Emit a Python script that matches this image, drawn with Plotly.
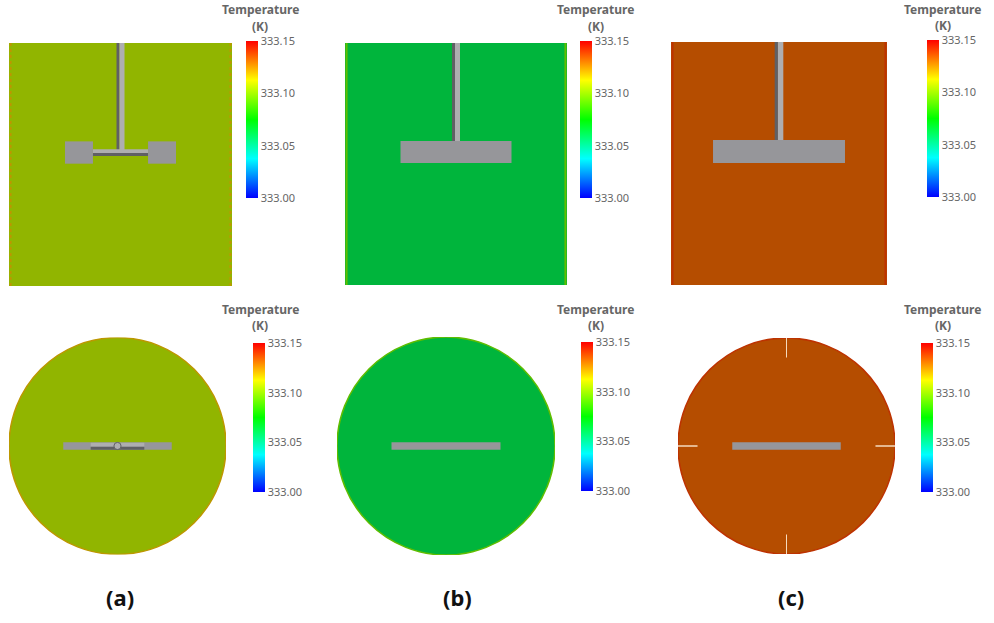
import plotly.graph_objects as go

W, H = 994, 623

panel_labels = ["(a)", "(b)", "(c)"]
temperatures_K = [333.105, 333.0625, 333.134]
wall_temperatures_K = [333.12, 333.094, 333.14]
cbar_ticks = [333.00, 333.05, 333.10, 333.15]
cbar_ticktext = ["333.00", "333.05", "333.10", "333.15"]

# Impeller geometry, in tank radii
side_blade_half = [0.498, 0.5, 0.611]
side_blade_inner = [0.247, 0.0, 0.0]
side_blade_height = [0.2, 0.2, 0.213]
side_blade_z = [1.197, 1.198, 1.236]
side_shaft_half = [0.036, 0.036, 0.04]
plan_blade_half = [0.5, 0.5, 0.5]
plan_blade_height = [0.07, 0.07, 0.07]

# Layout boxes (pixels)
side_boxes = [(9, 232, 43, 286), (345, 567, 43, 285), (671, 887, 42, 285)]
plan_boxes = [(9, 226, 337.5, 554.5), (337, 555, 337, 555), (678, 895, 338, 554)]
side_bars = [(246, 41), (580, 41), (927, 40)]
plan_bars = [(253, 343), (581, 342), (921, 343)]
side_title_x = [260, 595.5, 942.5]
side_title_y = [10, 10, 9]
plan_title_x = [260, 595.5, 942.5]
bar_len = [157, 149]
bar_thick = 12
label_x = [120, 457, 791]

JET = [(0, "#0000ff"), (0.25, "#00ffff"), (0.5, "#00ff00"), (0.75, "#ffff00"), (1, "#ff0000")]
JET_RGB = [(0, 0, 255), (0, 255, 255), (0, 255, 0), (255, 255, 0), (255, 0, 0)]


def jet(t, k=1.0):
    t = max(0, min(1, t)) * 4
    i = min(3, int(t))
    f = t - i
    c = [JET_RGB[i][n] * (1 - f) + JET_RGB[i + 1][n] * f for n in range(3)]
    return "rgb(%d,%d,%d)" % tuple(round(v * k) for v in c)


def frac(T):
    return (T - 333.0) / 0.15


fig = go.Figure()
shapes = []
annotations = []
SHADE = 0.71
GREY, LIGHT, DARK = "#96969a", "#aeaeb0", "#606064"


def rect(ax, x0, x1, y0, y1, color):
    shapes.append(dict(type="rect", xref=f"x{ax}", yref=f"y{ax}", x0=x0, x1=x1, y0=y0, y1=y1,
                       fillcolor=color, line=dict(width=0), layer="above"))


def axis(ax, box, xr, yr):
    l, r, t, b = box
    common = dict(visible=False, showgrid=False, zeroline=False, fixedrange=True)
    fig.layout[f"xaxis{ax}"] = dict(domain=[l / W, r / W], range=xr, anchor=f"y{ax}", **common)
    fig.layout[f"yaxis{ax}"] = dict(domain=[1 - b / H, 1 - t / H], range=yr, anchor=f"x{ax}", **common)


def colorbar_trace(ax, T, bar, length, title_x, title_y):
    x, top = bar
    fig.add_trace(go.Scatter(
        x=[0], y=[0.5], xaxis=f"x{ax}", yaxis=f"y{ax}", mode="markers", showlegend=False,
        marker=dict(size=2, color=[T], cmin=333.0, cmax=333.15, colorscale=JET,
                    colorbar=dict(x=x / W, xanchor="left", xpad=0, ypad=0, y=1 - (top + length / 2) / H,
                                  yanchor="middle", lenmode="pixels", len=length,
                                  thicknessmode="pixels", thickness=bar_thick, outlinewidth=0,
                                  ticks="", tickvals=cbar_ticks, ticktext=cbar_ticktext,
                                  tickfont=dict(family="Noto Sans", size=11, color="#666666")))))
    for text, dy in (("Temperature", 0), ("(K)", 16.5)):
        annotations.append(dict(xref="paper", yref="paper", x=title_x / W,
                                y=1 - (title_y + dy) / H, yanchor="middle", xanchor="center",
                                showarrow=False, text=f"<b>{text}</b>", borderpad=0,
                                font=dict(family="Noto Sans", size=12, color="#666666")))


for i in range(3):
    T = temperatures_K[i]
    fill = jet(frac(T), SHADE)
    edge = jet(frac(wall_temperatures_K[i]), 0.74)

    # Side view
    ax = 2 * i + 1
    box = side_boxes[i]
    ppu = (box[1] - box[0]) / 2
    height = (box[3] - box[2]) / ppu
    axis(ax, box, [-1, 1], [0, height])
    colorbar_trace(ax, T, side_bars[i], bar_len[0], side_title_x[i], side_title_y[i])
    rect(ax, -1, 1, 0, height, fill)
    zc = side_blade_z[i]
    bh = side_blade_height[i] / 2
    sh = side_shaft_half[i]
    for wx in (-0.986, 0.986):
        shapes.append(dict(type="line", xref=f"x{ax}", yref=f"y{ax}", x0=wx, x1=wx, y0=0, y1=height,
                           line=dict(color=edge, width=2, dash="3px,3px" if i == 0 else "solid"),
                           layer="above"))
    rect(ax, -sh, -sh / 4, zc, height, DARK)
    rect(ax, -sh / 4, sh, zc, height, LIGHT)
    inner = side_blade_inner[i]
    half = side_blade_half[i]
    if inner > 0:
        rect(ax, -inner, inner, zc - 0.03, zc + 0.03, LIGHT)
        rect(ax, -inner, inner, zc - 0.03, zc - 0.005, DARK)
        rect(ax, -half, -inner, zc - bh, zc + bh, GREY)
        rect(ax, inner, half, zc - bh, zc + bh, GREY)
    else:
        rect(ax, -half, half, zc - bh, zc + bh, GREY)

    # Plan view
    ax = 2 * i + 2
    box = plan_boxes[i]
    axis(ax, box, [-1, 1], [-1, 1])
    colorbar_trace(ax, T, plan_bars[i], bar_len[1], plan_title_x[i], 309)
    shapes.append(dict(type="circle", xref=f"x{ax}", yref=f"y{ax}", x0=-1, x1=1, y0=-1, y1=1,
                       fillcolor=fill, line=dict(color=edge, width=1.5), layer="above"))
    half = plan_blade_half[i]
    bh = plan_blade_height[i] / 2
    rect(ax, -half, half, -bh, bh, GREY)
    if i == 0:
        rect(ax, -0.247, 0.247, 0, 0.03, LIGHT)
        rect(ax, -0.247, 0.247, -0.035, -0.01, DARK)
        shapes.append(dict(type="circle", xref=f"x{ax}", yref=f"y{ax}", x0=-0.033, x1=0.033,
                           y0=-0.033, y1=0.033, fillcolor=LIGHT, line=dict(color=DARK, width=1),
                           layer="above"))
    if i == 2:
        for (x0, x1, y0, y1) in [(-0.004, 0.004, 0.82, 1), (-0.004, 0.004, -1, -0.82),
                                 (-1, -0.82, -0.006, 0.006), (0.82, 1, -0.006, 0.006)]:
            rect(ax, x0, x1, y0, y1, "#fff2dc")

    annotations.append(dict(xref="paper", yref="paper", x=label_x[i] / W, y=1 - 597 / H,
                            xanchor="center", yanchor="middle", showarrow=False,
                            text=f"<b>{panel_labels[i]}</b>",
                            font=dict(family="Noto Sans", size=22, color="#111111")))

fig.update_layout(width=W, height=H, margin=dict(l=0, r=0, t=0, b=0, autoexpand=False),
                  paper_bgcolor="white", plot_bgcolor="white", showlegend=False,
                  shapes=shapes, annotations=annotations)
fig.write_html("out.html", config={"displayModeBar": False},
               post_script="document.body.style.margin='0';")
